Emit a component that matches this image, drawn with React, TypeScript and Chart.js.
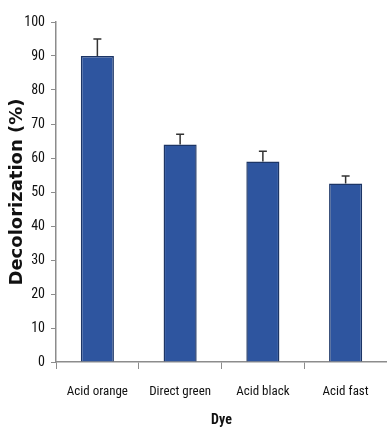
import React, { useEffect, useRef } from "react";
import { Chart, registerables } from "chart.js";

Chart.register(...registerables);

const categories = ["Acid orange", "Direct green", "Acid black", "Acid fast"];
const decolorization = [90, 64, 59, 52.5];
const errorUpper = [5, 3, 3, 2.2];
const yTicks = [0, 10, 20, 30, 40, 50, 60, 70, 80, 90, 100];

const errorBarPlugin = {
  id: "errorBars",
  afterDatasetsDraw(chart: any) {
    const ctx = chart.ctx;
    const meta = chart.getDatasetMeta(0);
    const y = chart.scales.y;
    ctx.save();
    ctx.strokeStyle = "#333333";
    ctx.lineWidth = 1.5;
    meta.data.forEach((bar: any, i: number) => {
      const x = bar.x;
      const top = y.getPixelForValue(decolorization[i] + errorUpper[i]);
      const base = y.getPixelForValue(decolorization[i]);
      ctx.beginPath();
      ctx.moveTo(x, base);
      ctx.lineTo(x, top);
      ctx.moveTo(x - 4, top);
      ctx.lineTo(x + 4, top);
      ctx.stroke();
    });
    ctx.restore();
  },
};

const tickFont = "'Roboto Condensed', 'DejaVu Sans Condensed', 'Liberation Sans', sans-serif";

export default function App() {
  const ref = useRef<HTMLCanvasElement>(null);
  useEffect(() => {
    document.body.style.margin = "0";
    const chart = new Chart(ref.current!, {
      type: "bar",
      data: {
        labels: categories,
        datasets: [
          {
            data: decolorization,
            backgroundColor: "#2E559F",
            borderColor: "#1C3566",
            borderWidth: 1.5,
            barPercentage: 0.8,
            categoryPercentage: 0.5,
          },
        ],
      },
      plugins: [errorBarPlugin],
      options: {
        animation: false,
        responsive: false,
        layout: { padding: { top: 22, right: 0, left: 0, bottom: 0 } },
        plugins: { legend: { display: false }, tooltip: { enabled: false } },
        scales: {
          x: {
            grid: {
              offset: true,
              drawOnChartArea: false,
              color: "#8c8c8c",
              tickLength: 7,
            },
            border: { color: "#8c8c8c", width: 1.5 },
            ticks: {
              color: "#111",
              font: { family: tickFont, size: 13 },
              padding: 15,
              maxRotation: 0,
            },
            title: {
              display: true,
              text: "Dye",
              color: "#111",
              font: { family: tickFont, size: 14, weight: "bold" },
              padding: { top: 6 },
            },
            afterFit(scale: any) {
              scale.height = 71;
            },
          },
          y: {
            min: 0,
            max: 100,
            afterBuildTicks(scale: any) {
              scale.ticks = yTicks.map((v) => ({ value: v }));
            },
            grid: {
              drawOnChartArea: false,
              color: "#8c8c8c",
              tickLength: 5,
            },
            border: { color: "#8c8c8c", width: 1.5 },
            ticks: {
              color: "#111",
              font: { family: tickFont, size: 14 },
              padding: 6,
            },
            title: {
              display: true,
              text: "Decolorization (%)",
              color: "#111",
              font: { family: "DejaVu Sans", size: 18, weight: "bold" },
              padding: { top: 7, bottom: 4 },
            },
            afterFit(scale: any) {
              scale.width = 56;
            },
          },
        },
      },
    });
    return () => chart.destroy();
  }, []);
  return (
    <div style={{ width: 387, height: 433 }}>
      <canvas ref={ref} width={387} height={433} />
    </div>
  );
}
